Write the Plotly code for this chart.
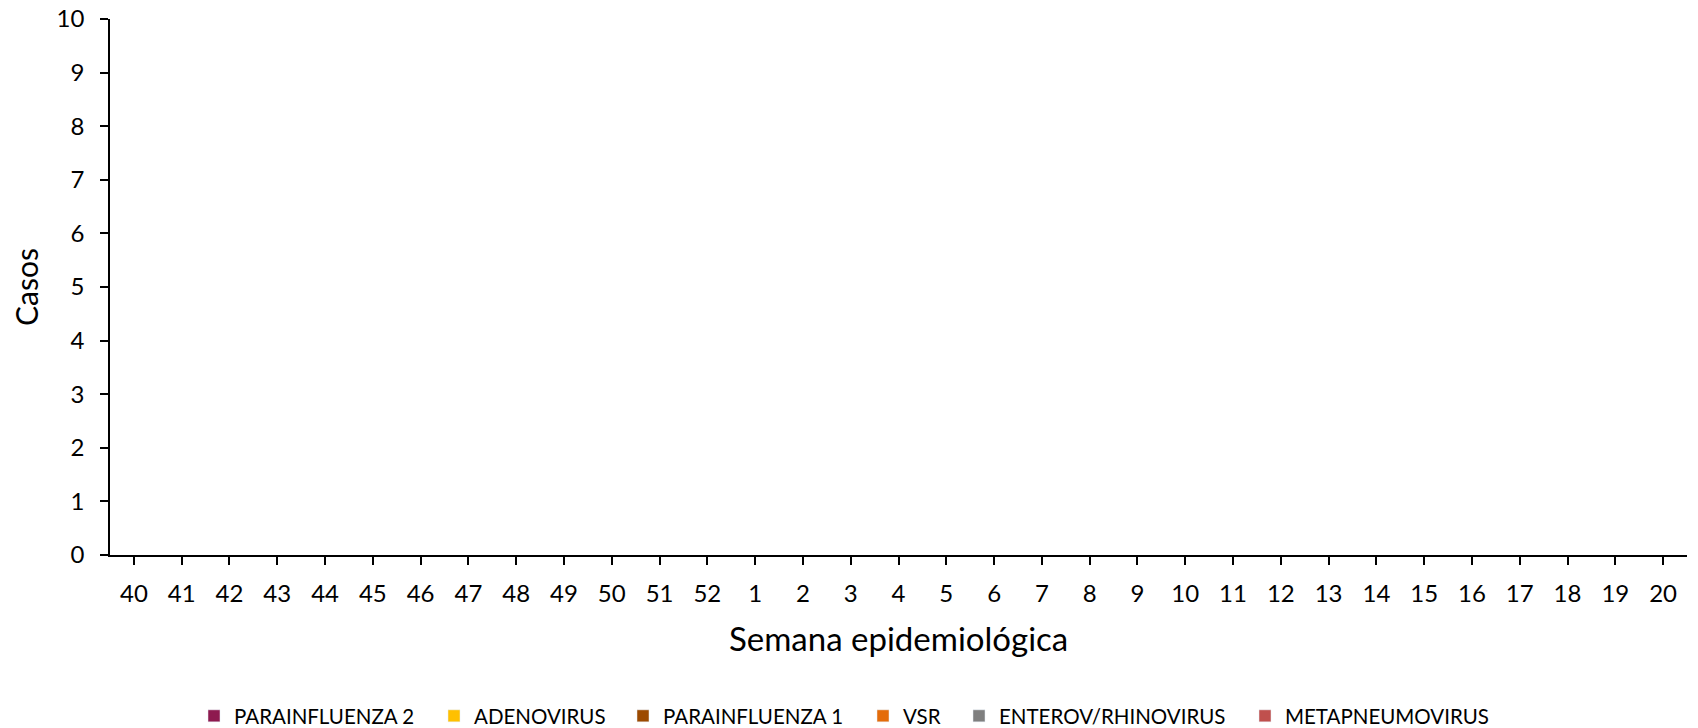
import plotly.graph_objects as go

weeks = ["40", "41", "42", "43", "44", "45", "46", "47", "48", "49", "50", "51", "52",
         "1", "2", "3", "4", "5", "6", "7", "8", "9", "10", "11", "12", "13", "14",
         "15", "16", "17", "18", "19", "20"]

parainfluenza2 = [0] * 33
adenovirus = [0] * 33
parainfluenza1 = [0] * 33
vsr = [0] * 33
enterov_rhinovirus = [0] * 33
metapneumovirus = [0] * 33

series = [
    ("PARAINFLUENZA 2", parainfluenza2, "#8E1A4F"),
    ("ADENOVIRUS", adenovirus, "#FFC000"),
    ("PARAINFLUENZA 1", parainfluenza1, "#9C4A00"),
    ("VSR", vsr, "#E46C0A"),
    ("ENTEROV/RHINOVIRUS", enterov_rhinovirus, "#7F7F7F"),
    ("METAPNEUMOVIRUS", metapneumovirus, "#C0504D"),
]

FONT = "Lato, 'Open Sans', sans-serif"
W, H = 1698, 728
L, R, T, B = 110, 11, 19, 728 - 555
PW = W - L - R
PH = H - T - B

# legend square left edges (screen pixels) for each legend entry
legend_px = [209, 449, 638, 878, 974, 1260]
LEG_OFF = 15
LEG_Y = 716

fig = go.Figure()
layout_legends = {}
for i, (name, vals, col) in enumerate(series):
    key = "legend" if i == 0 else f"legend{i+1}"
    fig.add_trace(go.Bar(x=weeks, y=vals, name=name, marker_color=col, legend=key))
    layout_legends[key] = dict(
        x=(legend_px[i] - LEG_OFF - L) / PW, xanchor="left",
        y=(-(LEG_Y - (T + PH))) / PH, yanchor="middle",
        orientation="h", font=dict(size=20.5, family=FONT, color="black"),
        bgcolor="rgba(0,0,0,0)", borderwidth=0,
    )

fig.update_layout(
    barmode="stack",
    width=W, height=H,
    paper_bgcolor="white", plot_bgcolor="white",
    margin=dict(l=L, r=R, t=T, b=B, autoexpand=False),
    font=dict(family=FONT, color="black", size=22),
    showlegend=True,
    **layout_legends,
)
fig.update_xaxes(
    type="category", categoryorder="array", categoryarray=weeks,
    range=[-0.5, 32.5], automargin=False,
    showline=True, linecolor="black", linewidth=1.5,
    ticks="outside", ticklen=8, tickcolor="black", tickwidth=1.5,
    tickfont=dict(size=24, family=FONT), ticklabelstandoff=8,
    showgrid=False, zeroline=False,
)
fig.update_yaxes(
    range=[0, 10], dtick=1, automargin=False, ticklabeloverflow="allow",
    showline=True, linecolor="black", linewidth=1.5,
    ticks="outside", ticklen=8, tickcolor="black", tickwidth=1.5,
    tickfont=dict(size=24, family=FONT), ticklabelstandoff=11,
    showgrid=False, zeroline=False,
)

fig.add_annotation(
    text="Semana epidemiológica", xref="paper", yref="paper",
    x=(898 - L) / PW, y=-(638 - (T + PH)) / PH,
    xanchor="center", yanchor="middle",
    showarrow=False, font=dict(size=33, family=FONT, color="black"),
)
fig.add_annotation(
    text="Casos", xref="paper", yref="paper",
    x=(26 - L) / PW, y=0.5, xanchor="center", yanchor="middle", textangle=-90,
    showarrow=False, font=dict(size=30, family=FONT, color="black"),
)

fig.write_html(
    "out.html",
    config={"displayModeBar": False},
    post_script="document.body.style.margin='0';document.body.style.overflow='hidden';",
)
